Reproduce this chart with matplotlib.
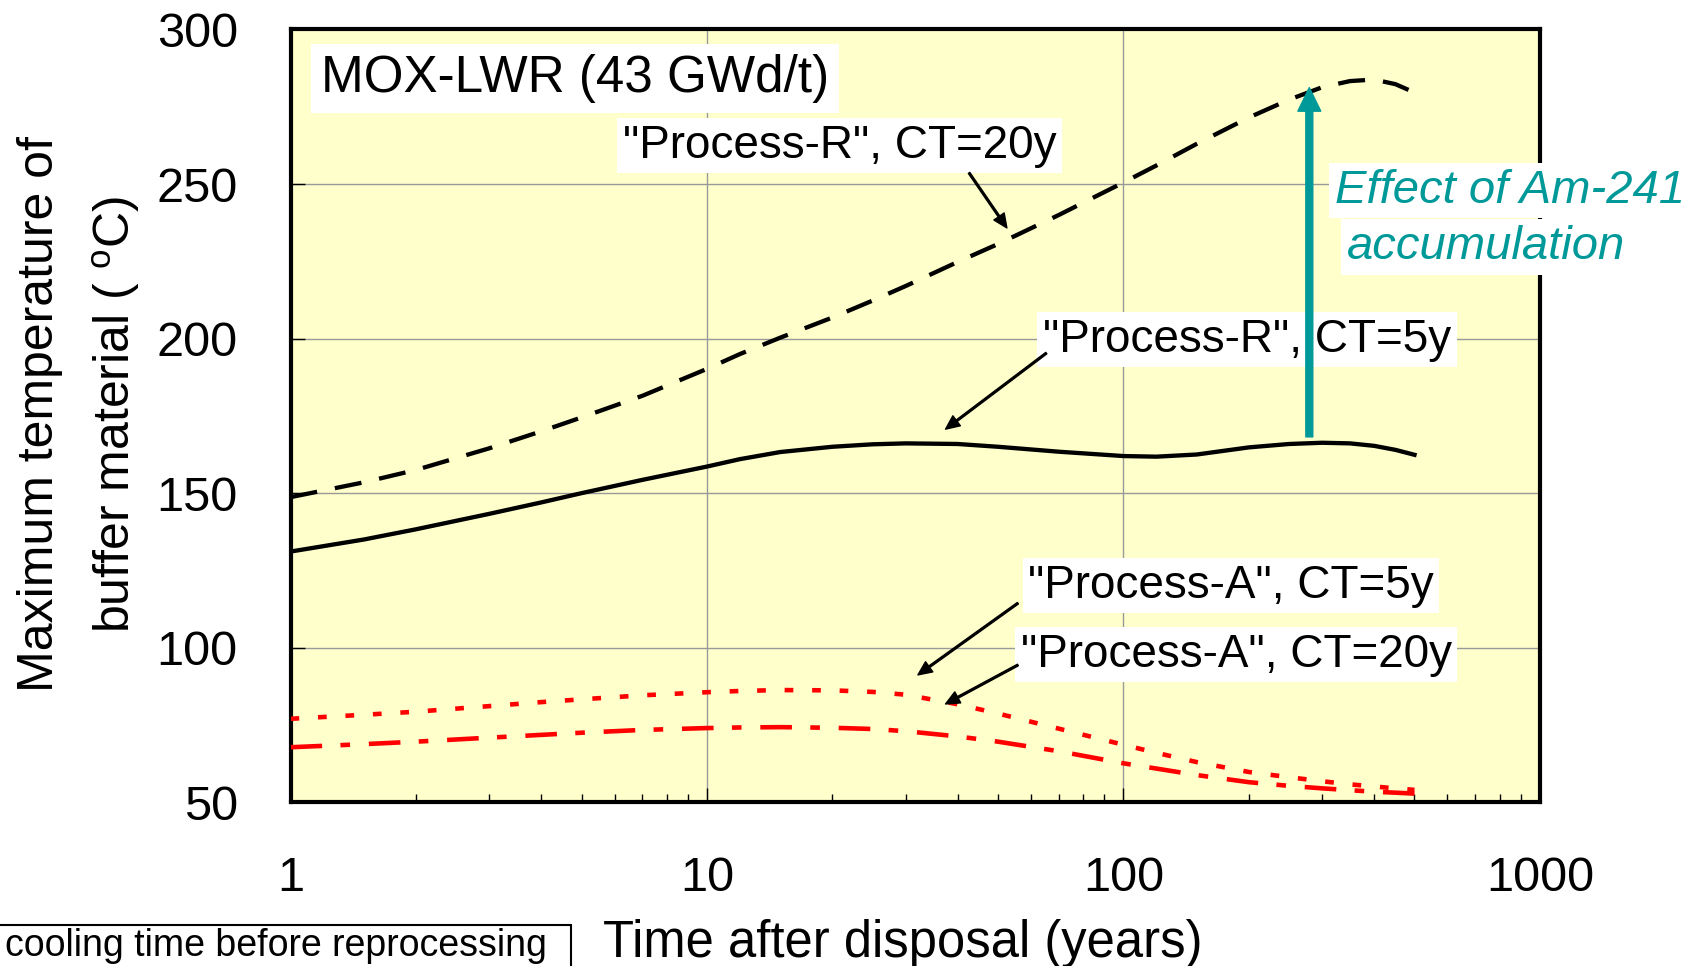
import matplotlib
matplotlib.use("Agg")
import matplotlib.pyplot as plt
from matplotlib.patches import Rectangle

plt.rcParams['font.family'] = ['Liberation Sans', 'DejaVu Sans']
plt.rcParams['mathtext.fontset'] = 'custom'
plt.rcParams['mathtext.rm'] = 'Liberation Sans'

# time after disposal (years)
years = [1, 1.5, 2, 3, 4, 5, 7, 10, 12, 15, 20, 25, 30, 40, 50, 70, 100, 120, 150,
         200, 250, 300, 350, 400, 450, 500]

# maximum buffer temperature (deg C)
proc_r_ct20 = [148.7, 153.5, 157.5, 164.5, 170, 174.5, 181.5, 190.2, 195, 200.3, 206.8,
               212.3, 217, 224.8, 230.6, 240, 250.5, 256, 263, 271.5, 277.3, 281.3,
               283.3, 283.8, 282.3, 279.6]
proc_r_ct5 = [131.1, 135, 138.3, 143.3, 147, 150, 154.3, 158.6, 161, 163.3, 165, 165.8,
              166.1, 165.9, 165, 163.4, 162, 161.8, 162.5, 164.8, 165.9, 166.3, 166.1,
              165.3, 164, 162.4]
proc_a_ct5 = [77, 78.3, 79.3, 81.1, 82.4, 83.3, 84.6, 85.6, 86, 86.3, 86.2, 85.7, 84.8,
              81.7, 78.7, 73.8, 68.6, 66, 63, 59.8, 58.1, 56.8, 55.8, 55.1, 54.5, 54]
proc_a_ct20 = [67.8, 68.8, 69.6, 70.9, 71.8, 72.5, 73.4, 74, 74.2, 74.3, 74.1, 73.7, 73,
               71.3, 69.6, 66.5, 62.6, 60.9, 58.8, 56.5, 55.3, 54.5, 53.9, 53.4, 53.1, 52.8]

xticks = [1, 10, 100, 1000]
xtick_labels = ["1", "10", "100", "1000"]
yticks = [50, 100, 150, 200, 250, 300]

teal = '#009999'

fig = plt.figure(figsize=(17, 9.66), dpi=100)
ax = fig.add_axes([0.1709, 0.1695, 0.7349, 0.8])
ax.set_facecolor('#FFFFCC')

ax.plot(years, proc_r_ct20, color='black', lw=3.1, ls=(0, (6.3, 4.2)), zorder=3)
ax.plot(years, proc_r_ct5, color='black', lw=3.1, zorder=3)
ax.plot(years, proc_a_ct5, color='red', lw=3.3, ls=(0, (1.9, 4.1)), zorder=3)
ax.plot(years, proc_a_ct20, color='red', lw=3.3, ls=(0, (6.9, 4.0, 2.1, 4.1)), zorder=3)

ax.set_xscale('log')
ax.set_xlim(1, 1000)
ax.set_ylim(50, 300)
ax.set_xticks(xticks)
ax.set_xticklabels(xtick_labels)
ax.set_yticks(yticks)
ax.grid(True, which='major', color='#999999', lw=1)
ax.tick_params(axis='x', which='major', direction='in', length=10, width=1, labelsize=35, pad=39)
ax.tick_params(axis='x', which='minor', direction='in', length=6, width=1)
ax.tick_params(axis='y', which='major', direction='in', length=10, width=1, labelsize=35, pad=38)
for s in ax.spines.values():
    s.set_linewidth(3)

box = dict(boxstyle='square,pad=0.12', fc='white', ec='none')
ax.text(0.0243, 0.919, 'MOX-LWR (43 GWd/t)', transform=ax.transAxes, fontsize=36.8,
        va='baseline', bbox=dict(boxstyle='square,pad=0.2', fc='white', ec='none'), zorder=4)
ax.text(0.266, 0.8337, '"Process-R", CT=20y', transform=ax.transAxes, fontsize=33,
        va='baseline', bbox=box, zorder=4)
ax.text(0.6022, 0.5831, '"Process-R", CT=5y', transform=ax.transAxes, fontsize=33,
        va='baseline', bbox=box, zorder=4)
ax.text(0.5904, 0.2648, '"Process-A", CT=5y', transform=ax.transAxes, fontsize=33,
        va='baseline', bbox=box, zorder=4)
ax.text(0.5844, 0.1755, '"Process-A", CT=20y', transform=ax.transAxes, fontsize=33,
        va='baseline', bbox=box, zorder=4)
ax.text(0.8361, 0.776, 'Effect of Am-241', transform=ax.transAxes, fontsize=34,
        style='italic', color=teal, va='baseline', bbox=box, zorder=4)
ax.text(0.8455, 0.703, 'accumulation', transform=ax.transAxes, fontsize=34,
        style='italic', color=teal, va='baseline', bbox=box, zorder=4)

arrow = dict(width=1.3, headwidth=9, headlength=10, fc='black', ec='black', shrink=0)
ax.annotate('', xy=(52.5, 235.8), xytext=(42.6, 253.6), arrowprops=arrow, zorder=5)
ax.annotate('', xy=(37.4, 170.7), xytext=(65.3, 195.3), arrowprops=arrow, zorder=5)
ax.annotate('', xy=(32.1, 91.2), xytext=(55.8, 114.4), arrowprops=arrow, zorder=5)
ax.annotate('', xy=(37.4, 81.8), xytext=(55.8, 94.4), arrowprops=arrow, zorder=5)

ax.annotate('', xy=(279.5, 281.2), xytext=(279.5, 168.2),
            arrowprops=dict(width=5, headwidth=16.5, headlength=17, fc=teal, ec=teal, shrink=0),
            zorder=6)

fig.text(0.031, 0.571, 'Maximum temperature of', rotation=90, rotation_mode='anchor',
         ha='center', va='baseline', fontsize=36)
fig.text(0.0765, 0.571, r'buffer material ( $\mathregular{^{o}}$C)', rotation=90,
         rotation_mode='anchor', ha='center', va='baseline', fontsize=36)
fig.text(0.3547, 0.0093, 'Time after disposal (years)', fontsize=36.5, va='baseline')

fig.patches.append(Rectangle((-0.002, -0.01), 0.3376, 0.0524, transform=fig.transFigure,
                             fc='white', ec='black', lw=1.5))
fig.text(0.0032, 0.0104, 'cooling time before reprocessing', fontsize=27, va='baseline')

fig.savefig('out.png', dpi=100)
